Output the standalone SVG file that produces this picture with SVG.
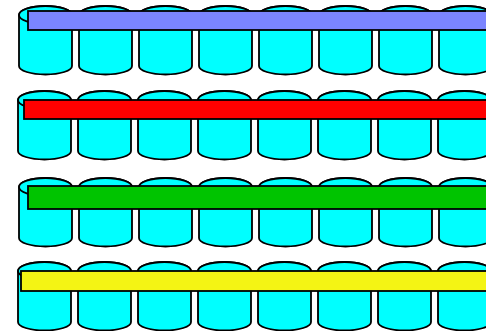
<svg xmlns="http://www.w3.org/2000/svg" xmlns:xlink="http://www.w3.org/1999/xlink" width="486" height="331" viewBox="0 0 486 331">
<style>
.can{fill:#00FFFF;stroke:#000;stroke-width:1.8;stroke-linejoin:round}
.bar{stroke:#000;stroke-width:1.8}
</style>
<defs>
<g id="can">
<path class="can" d="M0,9 V60 A26.5,8.5 0 0 0 53,60 V9 A26.5,9 0 0 0 0,9 Z"/>
<ellipse class="can" cx="26.5" cy="9" rx="26.5" ry="9"/>
</g>
</defs>
<rect width="486" height="331" fill="#fff"/>
<g id="row1">
<g id="r1c1"><use xlink:href="#can" href="#can" x="19" y="6"/></g>
<g id="r1c2"><use xlink:href="#can" href="#can" x="79" y="6"/></g>
<g id="r1c3"><use xlink:href="#can" href="#can" x="139" y="6"/></g>
<g id="r1c4"><use xlink:href="#can" href="#can" x="199" y="6"/></g>
<g id="r1c5"><use xlink:href="#can" href="#can" x="259" y="6"/></g>
<g id="r1c6"><use xlink:href="#can" href="#can" x="319" y="6"/></g>
<g id="r1c7"><use xlink:href="#can" href="#can" x="379" y="6"/></g>
<g id="r1c8"><use xlink:href="#can" href="#can" x="439" y="6"/></g>
<g id="bar1"><rect class="bar" x="28" y="11" width="480" height="19" fill="#7B85FF"/></g>
</g>
<g id="row2">
<g id="r2c1"><use xlink:href="#can" href="#can" x="18" y="91"/></g>
<g id="r2c2"><use xlink:href="#can" href="#can" x="78" y="91"/></g>
<g id="r2c3"><use xlink:href="#can" href="#can" x="138" y="91"/></g>
<g id="r2c4"><use xlink:href="#can" href="#can" x="198" y="91"/></g>
<g id="r2c5"><use xlink:href="#can" href="#can" x="258" y="91"/></g>
<g id="r2c6"><use xlink:href="#can" href="#can" x="318" y="91"/></g>
<g id="r2c7"><use xlink:href="#can" href="#can" x="378" y="91"/></g>
<g id="r2c8"><use xlink:href="#can" href="#can" x="438" y="91"/></g>
<g id="bar2"><rect class="bar" x="24" y="100" width="480" height="19" fill="#FF0000"/></g>
</g>
<g id="row3">
<g id="r3c1"><use xlink:href="#can" href="#can" x="19" y="178"/></g>
<g id="r3c2"><use xlink:href="#can" href="#can" x="79" y="178"/></g>
<g id="r3c3"><use xlink:href="#can" href="#can" x="139" y="178"/></g>
<g id="r3c4"><use xlink:href="#can" href="#can" x="199" y="178"/></g>
<g id="r3c5"><use xlink:href="#can" href="#can" x="259" y="178"/></g>
<g id="r3c6"><use xlink:href="#can" href="#can" x="319" y="178"/></g>
<g id="r3c7"><use xlink:href="#can" href="#can" x="379" y="178"/></g>
<g id="r3c8"><use xlink:href="#can" href="#can" x="439" y="178"/></g>
<g id="bar3"><rect class="bar" x="28" y="186" width="480" height="23" fill="#00C400"/></g>
</g>
<g id="row4">
<g id="r4c1"><use xlink:href="#can" href="#can" x="18" y="262"/></g>
<g id="r4c2"><use xlink:href="#can" href="#can" x="78" y="262"/></g>
<g id="r4c3"><use xlink:href="#can" href="#can" x="138" y="262"/></g>
<g id="r4c4"><use xlink:href="#can" href="#can" x="198" y="262"/></g>
<g id="r4c5"><use xlink:href="#can" href="#can" x="258" y="262"/></g>
<g id="r4c6"><use xlink:href="#can" href="#can" x="318" y="262"/></g>
<g id="r4c7"><use xlink:href="#can" href="#can" x="378" y="262"/></g>
<g id="r4c8"><use xlink:href="#can" href="#can" x="438" y="262"/></g>
<g id="bar4"><rect class="bar" x="21" y="271" width="480" height="20" fill="#F4F414"/></g>
</g>
<g id="connectors"/>
</svg>
